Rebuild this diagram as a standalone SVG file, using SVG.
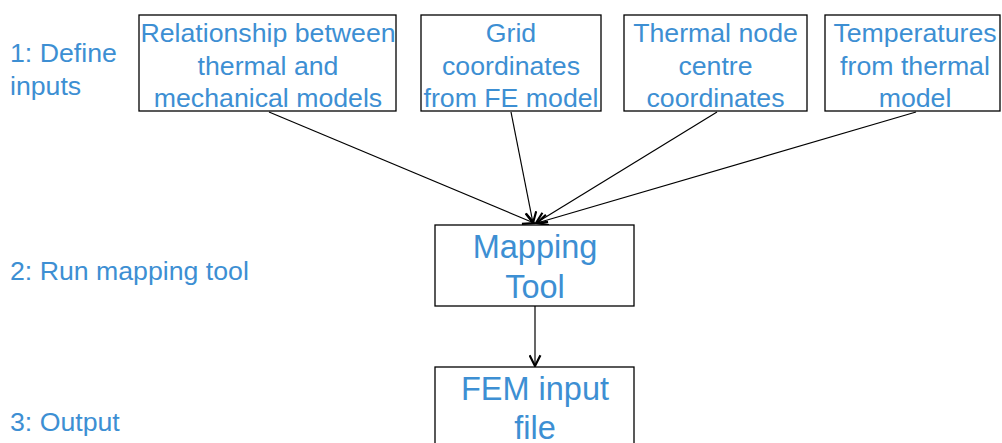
<svg xmlns="http://www.w3.org/2000/svg" width="1002" height="443" viewBox="0 0 1002 443">
<style>
.box{fill:#fff;stroke:#000;stroke-width:1.3}
.t{font-family:"Liberation Sans",Arial,sans-serif;fill:#3d8fd3;font-size:26.7px}
.c{text-anchor:middle}
.big{font-size:32.5px}
.e{stroke:#000;stroke-width:1.2;fill:none;marker-end:url(#ah)}
</style>
<defs>
<marker id="ah" viewBox="0 0 12 12" refX="11" refY="6" markerWidth="13" markerHeight="13" markerUnits="userSpaceOnUse" orient="auto">
<path d="M1,1 L11,6 L1,11" fill="none" stroke="#000" stroke-width="2"/>
</marker>
</defs>
<g id="labels">
<text class="t" x="10" y="62">1: Define</text>
<text class="t" x="10" y="95">inputs</text>
<text class="t" x="10" y="280">2: Run mapping tool</text>
<text class="t" x="10" y="431">3: Output</text>
</g>
<g id="connectors">
<line class="e" x1="269" y1="112" x2="534" y2="223"/>
<line class="e" x1="511" y1="112" x2="533" y2="223"/>
<line class="e" x1="717" y1="112" x2="536" y2="223"/>
<line class="e" x1="916" y1="112" x2="537" y2="223"/>
<line class="e" x1="535" y1="306" x2="535" y2="366"/>
</g>
<g id="n1"><rect class="box" x="139" y="15" width="257" height="96"/>
<text class="t c" x="268" y="42">Relationship between</text>
<text class="t c" x="268" y="75">thermal and</text>
<text class="t c" x="268" y="107">mechanical models</text></g>
<g id="n2"><rect class="box" x="421" y="15" width="180" height="96"/>
<text class="t c" x="511" y="42">Grid</text>
<text class="t c" x="511" y="75">coordinates</text>
<text class="t c" x="511" y="107">from FE model</text></g>
<g id="n3"><rect class="box" x="624" y="15" width="183" height="96"/>
<text class="t c" x="715.5" y="42">Thermal node</text>
<text class="t c" x="715.5" y="75">centre</text>
<text class="t c" x="715.5" y="107">coordinates</text></g>
<g id="n4"><rect class="box" x="825" y="15" width="175" height="96"/>
<text class="t c" x="915" y="42">Temperatures</text>
<text class="t c" x="915" y="75">from thermal</text>
<text class="t c" x="915" y="107">model</text></g>
<g id="n5"><rect class="box" x="435" y="225" width="199" height="81"/>
<text class="t c big" x="535" y="258">Mapping</text>
<text class="t c big" x="535" y="298">Tool</text></g>
<g id="n6"><rect class="box" x="435" y="367" width="199" height="90"/>
<text class="t c big" x="535" y="400">FEM input</text>
<text class="t c big" x="535" y="439">file</text></g>
</svg>
